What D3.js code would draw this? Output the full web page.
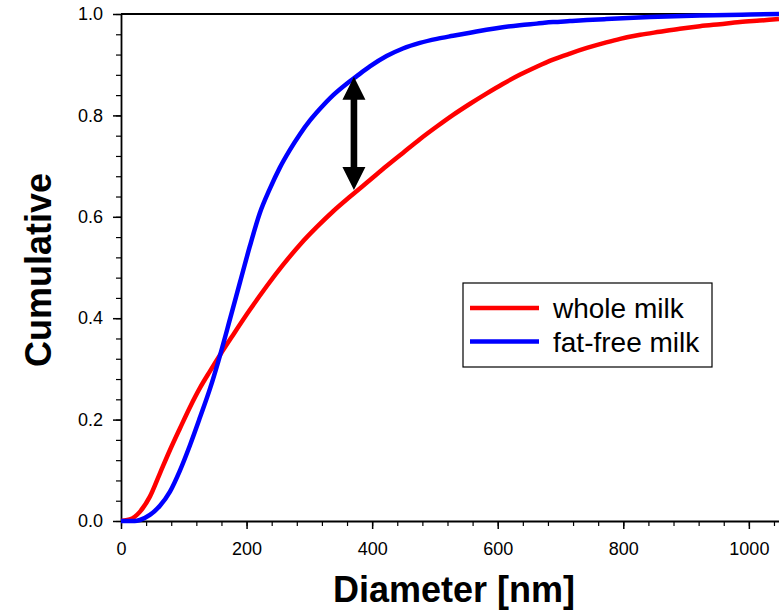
<!DOCTYPE html>
<html>
<head>
<meta charset="utf-8">
<script src="https://cdn.jsdelivr.net/npm/d3@7"></script>
<style>
  body { margin: 0; background: #fff; }
  text { font-family: Arial, "Liberation Sans", sans-serif; }
</style>
</head>
<body>
<div id="viz"></div>
<script>

// values
var wholeD = [0, 14, 30, 46, 62, 78, 94, 110, 126, 142, 158, 178, 205, 232, 258, 285, 312, 338, 365, 397, 423, 449, 476, 503, 529, 556, 582, 608, 635, 662, 688, 715, 742, 773, 795, 827, 858, 890, 922, 954, 986, 1017, 1048];
var wholeC = [0, 0.003, 0.018, 0.048, 0.094, 0.140, 0.183, 0.225, 0.263, 0.296, 0.328, 0.366, 0.416, 0.463, 0.505, 0.545, 0.580, 0.611, 0.640, 0.673, 0.700, 0.726, 0.753, 0.778, 0.801, 0.823, 0.843, 0.862, 0.880, 0.896, 0.910, 0.922, 0.933, 0.944, 0.951, 0.959, 0.965, 0.971, 0.976, 0.980, 0.984, 0.987, 0.990];

var freeD = [0, 22, 30, 46, 62, 78, 94, 110, 126, 142, 155, 174, 190, 205, 221, 237, 253, 269, 285, 301, 317, 338, 359, 375, 397, 423, 449, 476, 503, 529, 556, 582, 608, 635, 662, 688, 715, 742, 773, 842, 922, 1002, 1048];
var freeC = [0, 0, 0.002, 0.012, 0.030, 0.058, 0.100, 0.150, 0.205, 0.262, 0.315, 0.400, 0.473, 0.541, 0.607, 0.655, 0.697, 0.732, 0.763, 0.790, 0.813, 0.840, 0.862, 0.877, 0.897, 0.917, 0.932, 0.943, 0.951, 0.957, 0.963, 0.969, 0.974, 0.978, 0.981, 0.984, 0.986, 0.988, 0.990, 0.994, 0.997, 0.999, 1.0];

var xTicks = [0, 200, 400, 600, 800, 1000];
var yTicks = [0, 0.2, 0.4, 0.6, 0.8, 1.0];

var seriesNames = ["whole milk", "fat-free milk"];
var seriesColors = ["#ff0000", "#0000ff"];

// arrow between the curves: diameter, top and bottom cumulative
var arrowD = 371;
var arrowTop = 0.876;
var arrowBottom = 0.653;

var viz = { width: 779, height: 613 };
var padding = { left: 121, right: 0, top: 14, bottom: 92 };
var w = viz.width - padding.left - padding.right;
var h = viz.height - padding.top - padding.bottom;

var svg = d3.select("#viz")
	.append("svg")
	.attr("width", viz.width)
	.attr("height", viz.height)
	.append("g")
	.attr("transform", "translate(" + padding.left + "," + padding.top + ")");

var x = d3.scaleLinear().domain([0, 1048]).range([0, w]);
var y = d3.scaleLinear().domain([0, 1]).range([h, 0]);

// minor ticks
svg.append("g")
	.attr("transform", "translate(0," + h + ")")
	.call(d3.axisBottom(x).tickValues(d3.range(0, 1049, 40)).tickSize(5).tickFormat(""))
	.call(function (g) { g.select(".domain").remove(); })
	.selectAll("line").attr("stroke-width", 1.2);

svg.append("g")
	.call(d3.axisLeft(y).tickValues(d3.range(0, 26).map(function (i) { return i * 0.04; })).tickSize(5).tickFormat(""))
	.call(function (g) { g.select(".domain").remove(); })
	.selectAll("line").attr("stroke-width", 1.2);

// major ticks + labels
var xAxis = svg.append("g")
	.attr("transform", "translate(0," + h + ")")
	.call(d3.axisBottom(x).tickValues(xTicks).tickSize(8).tickPadding(13).tickSizeOuter(0).tickFormat(d3.format("d")));
xAxis.selectAll("text").attr("font-size", 18).attr("font-family", "Arial, 'Liberation Sans', sans-serif").attr("fill", "#000");
xAxis.selectAll("line").attr("stroke-width", 1.5);
xAxis.select(".domain").attr("stroke-width", 1.8);

var yAxis = svg.append("g")
	.call(d3.axisLeft(y).tickValues(yTicks).tickSize(8).tickPadding(10).tickSizeOuter(0).tickFormat(d3.format(".1f")));
yAxis.selectAll("text").attr("font-size", 18).attr("font-family", "Arial, 'Liberation Sans', sans-serif").attr("fill", "#000");
yAxis.selectAll("line").attr("stroke-width", 1.5);
yAxis.select(".domain").attr("stroke-width", 1.8);

// top frame line
svg.append("line")
	.attr("x1", 0).attr("x2", w)
	.attr("y1", 0).attr("y2", 0)
	.attr("stroke", "#000")
	.attr("stroke-width", 1.8);

// curves
var line = d3.line()
	.x(function (d) { return x(d[0]); })
	.y(function (d) { return y(d[1]); })
	.curve(d3.curveMonotoneX);

var wholeData = wholeD.map(function (d, i) { return [d, wholeC[i]]; });
var freeData = freeD.map(function (d, i) { return [d, freeC[i]]; });

svg.append("path")
	.datum(wholeData)
	.attr("d", line)
	.attr("fill", "none")
	.attr("stroke", seriesColors[0])
	.attr("stroke-width", 4.5);

svg.append("path")
	.datum(freeData)
	.attr("d", line)
	.attr("fill", "none")
	.attr("stroke", seriesColors[1])
	.attr("stroke-width", 4.5);

// double arrow
var ax = x(arrowD), at = y(arrowTop), ab = y(arrowBottom);
var headL = 23, headW = 11.5, shaftW = 3.3;
var pts = [
	[ax, at], [ax + headW, at + headL], [ax + shaftW, at + headL],
	[ax + shaftW, ab - headL], [ax + headW, ab - headL], [ax, ab],
	[ax - headW, ab - headL], [ax - shaftW, ab - headL], [ax - shaftW, at + headL],
	[ax - headW, at + headL]
];
svg.append("polygon")
	.attr("points", pts.map(function (p) { return p.join(","); }).join(" "))
	.attr("fill", "#000");

// legend
var legend = svg.append("g")
	.attr("transform", "translate(" + (463 - padding.left) + "," + (283 - padding.top) + ")");

legend.append("rect")
	.attr("width", 249)
	.attr("height", 84)
	.attr("fill", "#fff")
	.attr("stroke", "#000")
	.attr("stroke-width", 1.2);

var items = legend.selectAll(".item")
	.data(seriesNames).enter()
	.append("g")
	.attr("class", "item")
	.attr("transform", function (d, i) { return "translate(0," + (25 + i * 33.5) + ")"; });

items.append("line")
	.attr("x1", 7).attr("x2", 76)
	.attr("stroke", function (d, i) { return seriesColors[i]; })
	.attr("stroke-width", 4.5);

items.append("text")
	.attr("x", 90)
	.attr("y", 10)
	.attr("font-size", 28)
	.text(function (d) { return d; });

// axis titles
svg.append("text")
	.attr("x", 333 - padding.left)
	.attr("y", 602 - padding.top)
	.attr("font-size", 36)
	.attr("font-weight", "bold")
	.text("Diameter [nm]");

svg.append("text")
	.attr("transform", "translate(" + (51 - padding.left) + "," + (270 - padding.top) + ") rotate(-90)")
	.attr("text-anchor", "middle")
	.attr("font-size", 36)
	.attr("font-weight", "bold")
	.text("Cumulative");

</script>
</body>
</html>
